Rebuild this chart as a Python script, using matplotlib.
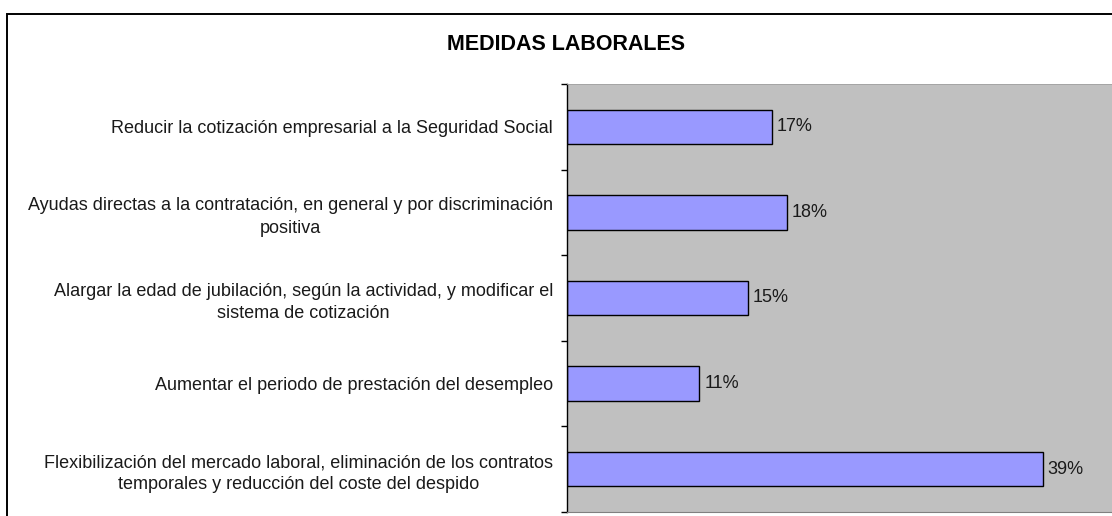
import matplotlib.pyplot as plt
from matplotlib.patches import Rectangle
from matplotlib.ticker import FixedLocator, NullFormatter

# Data (top to bottom as displayed)
categories = [
    "Reducir la cotización empresarial a la Seguridad Social",
    "Ayudas directas a la contratación, en general y por discriminación\npositiva",
    "Alargar la edad de jubilación, según la actividad, y modificar el\nsistema de cotización",
    "Aumentar el periodo de prestación del desempleo",
    "Flexibilización del mercado laboral, eliminación de los contratos\ntemporales y reducción del coste del despido",
]
values = [16.9, 18.1, 14.9, 10.9, 39.2]
value_labels = ["17%", "18%", "15%", "11%", "39%"]
title = "MEDIDAS LABORALES"

plt.rcParams["font.family"] = ["Liberation Sans", "DejaVu Sans"]

W, H = 1112, 516
fig = plt.figure(figsize=(W / 100, H / 100), dpi=100)
fig.patch.set_facecolor("white")

# outer chart border (cut off at right and bottom)
fig.patches.append(Rectangle((7 / W, -0.1), 1.2, 1 - 14 / H + 0.1, transform=fig.transFigure,
                             fill=False, edgecolor="black", linewidth=1.4))

ax = fig.add_axes([567 / W, 4 / H, 1 - 567 / W, (512 - 84) / H])
ax.set_facecolor("#C0C0C0")

n = len(categories)
ypos = list(range(n))
ax.barh(ypos, values, height=0.4, color="#9999FF", edgecolor="black", linewidth=1.0)
for y, v, lab in zip(ypos, values, value_labels):
    ax.text(v + 0.4, y, lab, va="center", ha="left", fontsize=13, color="#1a1a1a")

ax.set_ylim(n - 0.5, -0.5)
ax.set_xlim(0, 545 / 12.14)

ax.set_yticks(ypos)
ax.set_yticklabels(categories, fontsize=13, multialignment="center", color="#1a1a1a",
                   linespacing=1.4)
ax.tick_params(axis="y", which="major", length=0, pad=10)
ax.yaxis.set_minor_locator(FixedLocator([i - 0.5 for i in range(n + 1)]))
ax.yaxis.set_minor_formatter(NullFormatter())
ax.tick_params(axis="y", which="minor", length=4, width=1, direction="out", color="black")
ax.set_xticks([])

ax.spines["left"].set_color("black")
ax.spines["left"].set_linewidth(1.0)
ax.spines["bottom"].set_color("#808080")
ax.spines["top"].set_color("#A0A0A0")
ax.spines["top"].set_linewidth(0.6)
ax.spines["right"].set_visible(False)

fig.text(566 / W, 1 - 44 / H, title, ha="center", va="center", fontsize=15.5, fontweight="bold")

fig.savefig("out.png", dpi=100)
